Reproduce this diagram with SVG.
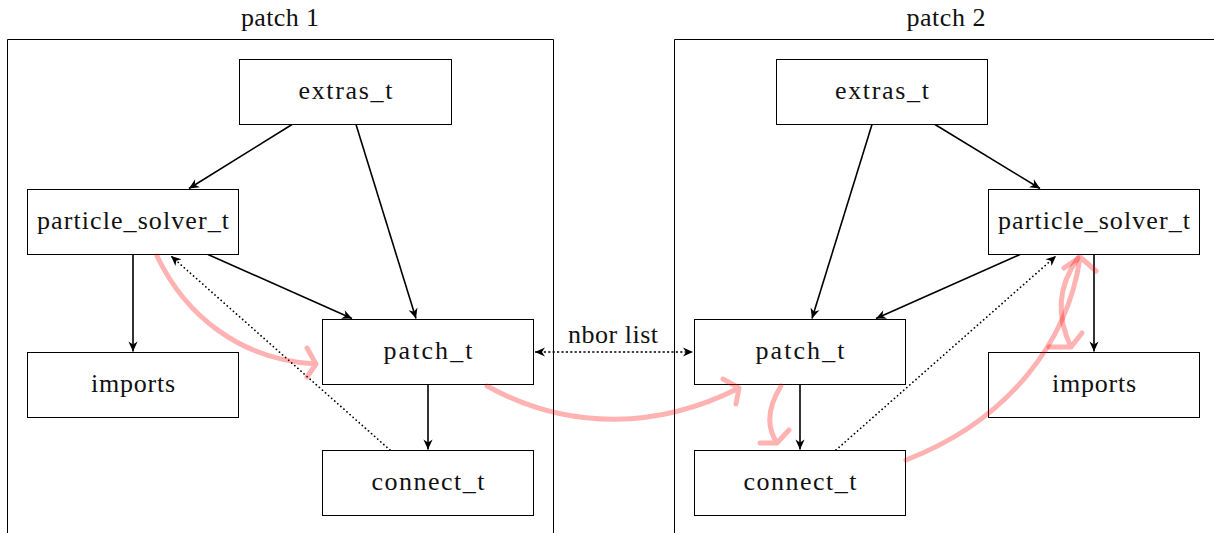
<svg xmlns="http://www.w3.org/2000/svg" width="1214" height="533" viewBox="0 0 1214 533">
<style>
.box{fill:#fff;stroke:#000;stroke-width:1}
.frame{fill:none;stroke:#000;stroke-width:1}
text{font-family:"Liberation Serif","Times New Roman",serif;font-size:26px;fill:#111;text-anchor:middle}
.e{fill:none;stroke:#000;stroke-width:1.6}
.d{fill:none;stroke:#000;stroke-width:1.7;stroke-dasharray:0.1 4;stroke-linecap:round}
.n{fill:none;stroke:#000;stroke-width:1.7;stroke-dasharray:2.2 2.2}
.r{fill:none;stroke:#ff0000;stroke-opacity:0.3;stroke-width:5;stroke-linecap:round;stroke-linejoin:round}
</style>
<defs>
<marker id="ah" markerUnits="userSpaceOnUse" viewBox="-11 -6 12 12" refX="0" refY="0" markerWidth="12" markerHeight="12" orient="auto-start-reverse">
<path d="M0,0 L-10,-4.6 L-7,0 L-10,4.6 Z" fill="#000"/>
</marker>
</defs>
<g id="frame1">
<path class="frame" d="M7.5,540 V39.5 H553.5 V540"/>
<text x="280" y="26" textLength="78" lengthAdjust="spacing">patch 1</text>
</g>
<g id="frame2">
<path class="frame" d="M674.5,540 V39.5 H1220"/>
<text x="946" y="26" textLength="79" lengthAdjust="spacing">patch 2</text>
</g>
<g id="connectors">
<line class="e" x1="292" y1="124.5" x2="189" y2="188.5" marker-end="url(#ah)"/>
<line class="e" x1="356" y1="124.5" x2="416" y2="318.5" marker-end="url(#ah)"/>
<line class="e" x1="133" y1="254.5" x2="133" y2="351.5" marker-end="url(#ah)"/>
<line class="e" x1="208" y1="254.5" x2="352" y2="318.5" marker-end="url(#ah)"/>
<line class="e" x1="428" y1="384.5" x2="428" y2="449.5" marker-end="url(#ah)"/>
<line class="d" x1="390" y1="450" x2="171" y2="256" marker-end="url(#ah)"/>
<line class="n" x1="535" y1="352" x2="693" y2="352" marker-start="url(#ah)" marker-end="url(#ah)"/>
<text x="613" y="343" textLength="90" lengthAdjust="spacing">nbor list</text>
<line class="e" x1="872" y1="124.5" x2="812" y2="318.5" marker-end="url(#ah)"/>
<line class="e" x1="935" y1="124.5" x2="1040" y2="188.5" marker-end="url(#ah)"/>
<line class="e" x1="1020" y1="254.5" x2="876" y2="318.5" marker-end="url(#ah)"/>
<line class="e" x1="1094" y1="254.5" x2="1094" y2="351.5" marker-end="url(#ah)"/>
<line class="e" x1="800" y1="384.5" x2="800" y2="449.5" marker-end="url(#ah)"/>
<line class="d" x1="836" y1="450" x2="1056" y2="256" marker-end="url(#ah)"/>
</g>
<g id="n_extras1"><rect class="box" x="239.5" y="59.5" width="212" height="65"/><text x="345.5" y="99" textLength="94" lengthAdjust="spacing">extras_t</text></g>
<g id="n_ps1"><rect class="box" x="27.5" y="189.5" width="211" height="65"/><text x="133" y="229" textLength="192" lengthAdjust="spacing">particle_solver_t</text></g>
<g id="n_imports1"><rect class="box" x="27.5" y="352.5" width="211" height="65"/><text x="133" y="392" textLength="84" lengthAdjust="spacing">imports</text></g>
<g id="n_patch1"><rect class="box" x="322.5" y="319.5" width="211" height="65"/><text x="428" y="359" textLength="89" lengthAdjust="spacing">patch_t</text></g>
<g id="n_connect1"><rect class="box" x="322.5" y="450.5" width="211" height="65"/><text x="428" y="490" textLength="113" lengthAdjust="spacing">connect_t</text></g>
<g id="n_extras2"><rect class="box" x="776.5" y="59.5" width="211" height="65"/><text x="882" y="99" textLength="94" lengthAdjust="spacing">extras_t</text></g>
<g id="n_ps2"><rect class="box" x="988.5" y="189.5" width="211" height="65"/><text x="1094" y="229" textLength="192" lengthAdjust="spacing">particle_solver_t</text></g>
<g id="n_imports2"><rect class="box" x="988.5" y="352.5" width="211" height="65"/><text x="1094" y="392" textLength="84" lengthAdjust="spacing">imports</text></g>
<g id="n_patch2"><rect class="box" x="694.5" y="319.5" width="211" height="65"/><text x="800" y="359" textLength="89" lengthAdjust="spacing">patch_t</text></g>
<g id="n_connect2"><rect class="box" x="694.5" y="450.5" width="211" height="65"/><text x="800" y="490" textLength="113" lengthAdjust="spacing">connect_t</text></g>
<g id="red">
<path class="r" d="M157,256 C185,315 240,360 316,364 M307,348 L316,364 L307,377"/>
<path class="r" d="M487,386 C570,432 660,428 739,388 M723,379 L739,388 L736,404"/>
<path class="r" d="M781,386 C766,410 767,428 777,443 M760,443 L777,443 L789,430"/>
<path class="r" d="M906,460 C1010,420 1068,340 1080,258 M1064,268 L1080,257 L1096,271"/>
<path class="r" d="M1078,258 C1055,290 1058,320 1071,347 M1049,347 L1071,347 L1082,333"/>
</g>
</svg>
